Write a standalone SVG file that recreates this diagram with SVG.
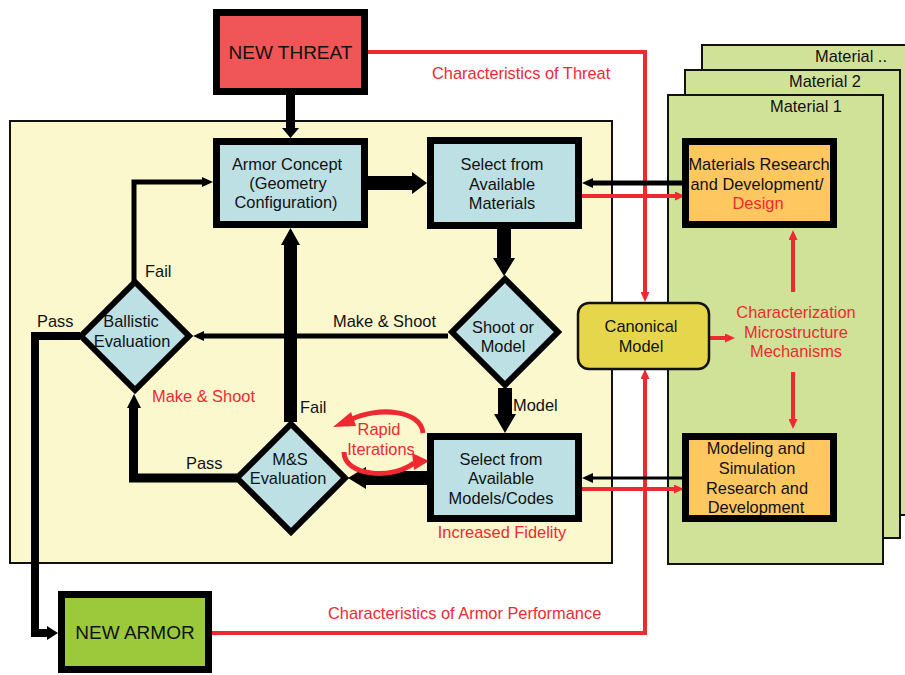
<svg xmlns="http://www.w3.org/2000/svg" width="905" height="675" viewBox="0 0 905 675">
<style>
text{font-family:"Liberation Sans",Arial,sans-serif;font-size:16.4px;fill:#111}
.c{text-anchor:middle}
.r{fill:#ee2a30}
.box{stroke:#000;stroke-width:7}
.blue{fill:#bce0e4}
.orange{fill:#fec760}
.dia{fill:#bce0e4;stroke:#000;stroke-width:6;stroke-linejoin:miter}
.sheet{fill:#d0e198;stroke:#111;stroke-width:2}
.rl{fill:none;stroke:#ee2a30;stroke-width:4}
.kl{fill:none;stroke:#000}
.k{fill:#000}
.rf{fill:#ee2a30}
</style>
<defs>
<marker id="ar" markerUnits="userSpaceOnUse" markerWidth="10" markerHeight="9" refX="1" refY="4.5" orient="auto"><path d="M0,0 L10,4.5 L0,9 z" fill="#ee2a30"/></marker>
<marker id="ak" markerUnits="userSpaceOnUse" markerWidth="11" markerHeight="10" refX="1" refY="5" orient="auto"><path d="M0,0 L11,5 L0,10 z" fill="#000"/></marker>
</defs>
<rect width="905" height="675" fill="#fff"/>

<g id="process-area">
<rect x="10" y="121" width="602" height="442" fill="#fbf8cd" stroke="#111" stroke-width="2"/>
</g>
<g id="material-more">
<rect class="sheet" x="702" y="45" width="215" height="470"/>
<text x="815" y="62">Material ..</text>
</g>
<g id="material-2">
<rect class="sheet" x="685" y="70" width="215" height="468"/>
<text x="789" y="87">Material 2</text>
</g>
<g id="material-1">
<rect class="sheet" x="668" y="95" width="215" height="469"/>
<text x="770" y="112">Material 1</text>
</g>

<g id="connectors">
<polyline class="rl" points="368,52 645,52 645,293" marker-end="url(#ar)"/>
<polyline class="rl" points="212,633 645,633 645,378" marker-end="url(#ar)"/>
<line class="kl" stroke-width="5" x1="682" y1="183" x2="592" y2="183" marker-end="url(#ak)"/>
<line class="rl" x1="582" y1="196" x2="676" y2="196" marker-end="url(#ar)"/>
<line class="kl" stroke-width="3" x1="682" y1="478" x2="592" y2="478" marker-end="url(#ak)"/>
<line class="rl" x1="582" y1="489" x2="675" y2="489" marker-end="url(#ar)"/>
<line class="rl" x1="710" y1="338" x2="726" y2="338" marker-end="url(#ar)"/>
<line class="rl" x1="793" y1="292" x2="793" y2="239" marker-end="url(#ar)"/>
<line class="rl" x1="793" y1="372" x2="793" y2="420" marker-end="url(#ar)"/>
<polygon class="k" points="286,95 295,95 295,128 299,128 290.5,138 282,128 286,128"/>
<polygon class="k" points="368,176 412,176 412,172 427,183 412,194 412,190 368,190"/>
<polygon class="k" points="497,229 511,229 511,258 515,258 504,276 493,258 497,258"/>
<polygon class="k" points="498,388 512,388 512,414 516,414 505,433 494,414 498,414"/>
<polygon class="k" points="427,471 366,471 366,467 348,478 366,489 366,485 427,485"/>
<polygon class="k" points="284,422 297,422 297,245 300,245 290.5,228 281,245 284,245"/>
<line class="kl" stroke-width="5" x1="448" y1="336" x2="203" y2="336" marker-end="url(#ak)"/>
<polyline class="kl" stroke-width="5" points="134,282 134,182 203,182" marker-end="url(#ak)"/>
<polyline class="kl" stroke-width="8" points="80,336 35,336 35,633 50,633"/>
<polygon class="k" points="58,633 47,626 47,640"/>
<polyline class="kl" stroke-width="9" points="237,478 133.5,478 133.5,405"/>
<polygon class="k" points="134,394 127,408 141,408"/>
<path d="M423,433 C421,410 378,406 350,420" fill="none" stroke="#ee2a30" stroke-width="5"/>
<polygon class="rf" points="333,427 351,412 356,426"/>
<path d="M344,452 C344,476 392,480 414,463" fill="none" stroke="#ee2a30" stroke-width="5"/>
<polygon class="rf" points="429,461 412,453 414,470"/>
</g>

<g id="new-threat">
<rect class="box" x="216.5" y="12.5" width="148" height="79" fill="#f05557"/>
<text class="c" x="290.5" y="59" style="font-size:19px">NEW THREAT</text>
</g>
<g id="armor-concept">
<rect class="box blue" x="216.5" y="141.5" width="148" height="83"/>
<text class="c" x="287" y="170">Armor Concept</text>
<text class="c" x="288" y="189">(Geometry</text>
<text class="c" x="286" y="208">Configuration)</text>
</g>
<g id="select-materials">
<rect class="box blue" x="430.5" y="140.5" width="148" height="85"/>
<text class="c" x="502" y="170">Select from</text>
<text class="c" x="502" y="190">Available</text>
<text class="c" x="502" y="209">Materials</text>
</g>
<g id="shoot-or-model">
<polygon class="dia" points="505,279 558,332 505,385 452,332"/>
<text class="c" x="503" y="333">Shoot or</text>
<text class="c" x="503" y="352">Model</text>
</g>
<g id="ballistic-evaluation">
<polygon class="dia" points="135,282 189,336 135,390 81,336"/>
<text class="c" x="131" y="327">Ballistic</text>
<text class="c" x="132" y="347">Evaluation</text>
</g>
<g id="ms-evaluation">
<polygon class="dia" points="291,424 345,478 291,532 237,478"/>
<text class="c" x="290" y="465">M&amp;S</text>
<text class="c" x="288" y="484">Evaluation</text>
</g>
<g id="select-models">
<rect class="box blue" x="430.5" y="436.5" width="148" height="82"/>
<text class="c" x="501" y="465">Select from</text>
<text class="c" x="501" y="484">Available</text>
<text class="c" x="501" y="504">Models/Codes</text>
</g>
<g id="materials-rd">
<rect class="box orange" x="685.5" y="141.5" width="148" height="83"/>
<text class="c" x="759" y="170">Materials Research</text>
<text class="c" x="757" y="190">and Development/</text>
<text class="c r" x="758" y="209">Design</text>
</g>
<g id="modeling-rd">
<rect class="box orange" x="685.5" y="436.5" width="148" height="82"/>
<text class="c" x="756" y="454">Modeling and</text>
<text class="c" x="757" y="474">Simulation</text>
<text class="c" x="757" y="494">Research and</text>
<text class="c" x="756" y="513">Development</text>
</g>
<g id="canonical-model">
<rect x="578" y="303" width="131" height="66" rx="11" fill="#e6d64c" stroke="#111" stroke-width="2.5"/>
<text class="c" x="641" y="332">Canonical</text>
<text class="c" x="641" y="352">Model</text>
</g>
<g id="characterization">
<text class="c r" x="796" y="318">Characterization</text>
<text class="c r" x="796" y="338">Microstructure</text>
<text class="c r" x="796" y="357">Mechanisms</text>
</g>
<g id="new-armor">
<rect class="box" x="61.5" y="594.5" width="147" height="75" fill="#9cc93c"/>
<text class="c" x="135" y="639" style="font-size:19px">NEW ARMOR</text>
</g>

<g id="labels">
<text class="r" x="432" y="79">Characteristics of Threat</text>
<text class="r" x="328" y="619">Characteristics of Armor Performance</text>
<text x="145" y="277">Fail</text>
<text x="37" y="327">Pass</text>
<text x="333" y="327">Make &amp; Shoot</text>
<text x="513" y="411">Model</text>
<text x="300" y="413">Fail</text>
<text x="186" y="469">Pass</text>
<text class="r" x="152" y="402">Make &amp; Shoot</text>
<text class="c r" x="502" y="538">Increased Fidelity</text>
<text class="c r" x="379" y="435">Rapid</text>
<text class="c r" x="381" y="455">Iterations</text>
</g>
</svg>
